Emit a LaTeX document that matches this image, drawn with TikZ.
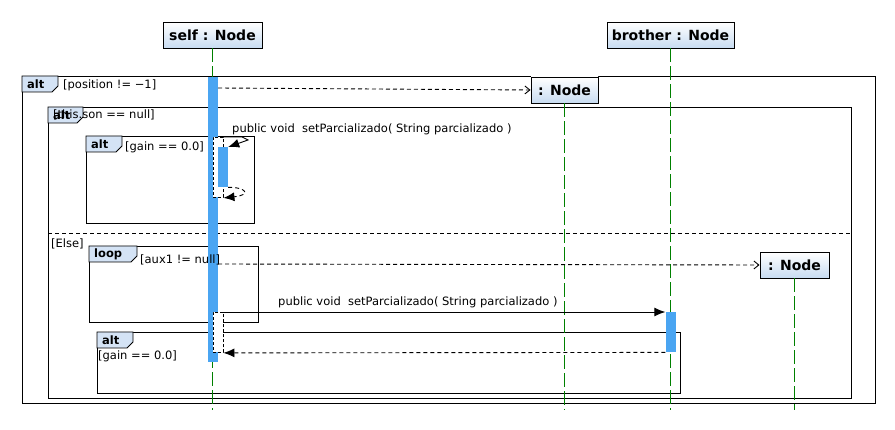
\documentclass[tikz,border=0pt]{standalone}
\usepackage{fontspec}
\setmainfont{DejaVu Sans}
\usetikzlibrary{arrows.meta,calc}
\definecolor{actblue}{RGB}{74,165,242}
\definecolor{tabfill}{RGB}{212,227,245}
\definecolor{objbot}{RGB}{200,220,242}
\definecolor{lifegreen}{RGB}{0,128,0}
\tikzset{
 obj/.style={draw, line width=0.9pt, top color=white, bottom color=objbot, font=\fontsize{14}{16}\selectfont\bfseries, inner sep=0pt, minimum height=26pt},
 lifeline/.style={lifegreen, line width=1.1pt, dash pattern=on 14pt off 4pt},
 act/.style={fill=actblue, draw=none, inner sep=0pt, minimum width=10pt, anchor=north},
 ovl/.style={draw, fill=white, line width=0.9pt, dash pattern=on 3pt off 2pt, inner sep=0pt, minimum width=10pt, anchor=north},
 frame/.style={draw, line width=0.9pt},
 tab/.style={draw, line width=0.9pt, fill=tabfill},
 tablabel/.style={font=\fontsize{11.5}{13}\selectfont\bfseries, anchor=west, inner sep=0pt},
 guard/.style={font=\fontsize{11.5}{13}\selectfont, anchor=west, inner sep=0pt},
 call/.style={line width=0.9pt, -{Latex[length=11pt,width=9pt]}},
 ret/.style={line width=0.9pt, dash pattern=on 4pt off 3pt, -{Latex[length=11pt,width=9pt]}},
 create/.style={line width=0.9pt, dash pattern=on 4pt off 3pt, -{Straight Barb[length=5pt,width=8pt]}},
 sep/.style={line width=0.9pt, dash pattern=on 4pt off 3pt}
}
\newcommand\FragFrame[8]{%
 \draw[frame] (#2,#3) rectangle (#4,#5);
 \draw[tab] (#2,#3) -- ({#2+#6},#3) -- ({#2+#6},{#3+#7-6}) -- ({#2+#6-6},{#3+#7}) -- (#2,{#3+#7}) -- cycle;
 \node[tablabel] (#1) at ({#2+5},{#3+#7/2}) {#8};
}
\begin{document}
\begin{tikzpicture}[x=1pt,y=-1pt]
\useasboundingbox (0,0) rectangle (895,430);
\fill[white] (0,0) rectangle (895,430);
% frames
\FragFrame{altA}{22}{76}{875}{403}{36}{16}{alt}
\FragFrame{altB}{48}{107}{851}{398}{35}{16}{alt}
\FragFrame{altC}{86}{136}{254}{223}{36}{16}{alt}
\FragFrame{loopA}{89}{246}{258}{322}{48}{16}{loop}
\FragFrame{altD}{97}{332}{680}{393}{36}{16}{alt}
\draw[sep] (48,233) -- (851,233);
% objects
\node[obj, minimum width=99pt] (self) at (212.5,35) {self : Node};
\node[obj, minimum width=127pt] (bro) at (670.5,35) {brother : Node};
\node[obj, minimum width=67pt] (c1) at (564.5,90) {: Node};
\node[obj, minimum width=69pt] (c2) at (794.5,265) {: Node};
% lifelines
\coordinate (bottom) at (0,410);
\draw[lifeline] (self.south) -- (self.south |- bottom);
\draw[lifeline] (bro.south) -- (bro.south |- bottom);
\draw[lifeline] (c1.south) -- (c1.south |- bottom);
\draw[lifeline] (c2.south) -- (c2.south |- bottom);
% activations
\node[act, minimum height=285pt] (actself) at (213,77) {};
\node[ovl, minimum height=60pt] (ov1) at (218,137) {};
\node[act, minimum height=40pt] (actself2) at (223,147) {};
\node[ovl, minimum height=40pt] (ov2) at (218,312) {};
\node[act, minimum height=40pt] (actbro) at (670.5,312) {};
% messages
\coordinate (m1s) at (218,88);
\draw[create] (m1s) -- (c1.west);
\coordinate (m2s) at (223,137);
\coordinate (m2a) at (242,137);
\coordinate (m2b) at (248,140);
\draw[call] (m2s) -- (m2a) -- (m2b) -- (actself2.north east);
\draw[ret] (actself2.south east) .. controls (246,187) and (252,195) .. (ov1.south east);
\coordinate (m4s) at (218,264);
\draw[create] (m4s) -- (c2.west);
\draw[call] (ov2.north east) -- (actbro.north west);
\draw[ret] (actbro.south west) -- (ov2.south east);
% texts
\node[guard] (g1) at (63,85) {[position != −1]};
\node[guard] (g2) at (53,115) {[this.son == null]};
\node[guard] (g3) at (125,147) {[gain == 0.0]};
\node[guard] (g4) at (51,244) {[Else]};
\node[guard] (g5) at (140,260) {[aux1 != null]};
\node[guard] (g6) at (98,356) {[gain == 0.0]};
\node[guard] (t1) at (232,129) {public void\ \ setParcializado( String parcializado )};
\node[guard] (t2) at (278,302) {public void\ \ setParcializado( String parcializado )};
\end{tikzpicture}
\end{document}
